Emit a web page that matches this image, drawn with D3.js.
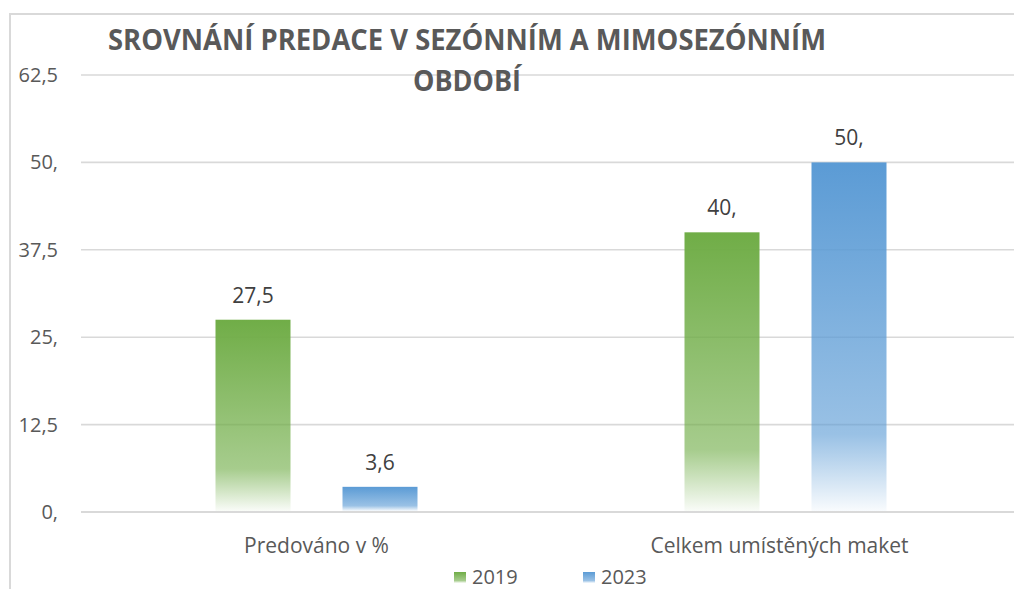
<!DOCTYPE html>
<html><head><meta charset="utf-8">
<script src="https://cdn.jsdelivr.net/npm/d3@7"></script>
<style>body{margin:0;background:#fff}svg{display:block}</style>
</head><body>
<svg id="c" width="1014" height="589"></svg>
<script>
const categories = ["Predováno v %", "Celkem umístěných maket"];
const series = ["2019", "2023"];
const values2019 = [27.5, 40];
const values2023 = [3.6, 50];
const valueLabels2019 = ["27,5", "40,"];
const valueLabels2023 = ["3,6", "50,"];
const tickValues = [0, 12.5, 25, 37.5, 50, 62.5];
const tickLabels = ["0,", "12,5", "25,", "37,5", "50,", "62,5"];
const titleLines = ["SROVNÁNÍ PREDACE V SEZÓNNÍM A MIMOSEZÓNNÍM", "OBDOBÍ"];
const colors = {"2019": "#70AD47", "2023": "#5B9BD5"};

const svg = d3.select("#c");
const font = "'Open Sans', sans-serif";

// frame
svg.append("rect").attr("x", 10).attr("y", 14).attr("width", 1030).attr("height", 600)
  .attr("fill", "none").attr("stroke", "#d9d9d9").attr("stroke-width", 2);

// gradients
const defs = svg.append("defs");
series.forEach(s => {
  const g = defs.append("linearGradient").attr("id", "g" + s)
    .attr("x1", 0).attr("y1", 0).attr("x2", 0).attr("y2", 1);
  g.append("stop").attr("offset", "0%").attr("stop-color", colors[s]).attr("stop-opacity", 1);
  g.append("stop").attr("offset", "78%").attr("stop-color", colors[s]).attr("stop-opacity", 0.62);
  g.append("stop").attr("offset", "100%").attr("stop-color", colors[s]).attr("stop-opacity", 0.04);
});

const y = d3.scaleLinear().domain([0, 62.5]).range([512, 75]);
const x0 = d3.scaleBand().domain(categories).range([82, 1020])
  .paddingInner(267 / 469).paddingOuter(267 / 469 / 2);
const x1 = d3.scaleBand().domain(series).range([0, x0.bandwidth()]).paddingInner(52 / 127);

// gridlines
svg.append("g").selectAll("line").data(tickValues).join("line")
  .attr("x1", 81).attr("x2", 1014)
  .attr("y1", d => y(d)).attr("y2", d => y(d))
  .attr("stroke", "#d9d9d9").attr("stroke-width", d => d === 0 ? 2.2 : 1.6);

// y tick labels
svg.append("g").selectAll("text").data(tickValues).join("text")
  .attr("x", 58).attr("y", d => y(d)).attr("dy", "0.35em")
  .attr("text-anchor", "end").attr("font-family", font).attr("font-size", 20)
  .attr("fill", "#595959").text((d, i) => tickLabels[i]);

const data = categories.map((c, i) => ({
  cat: c,
  vals: [
    {s: "2019", v: values2019[i], l: valueLabels2019[i]},
    {s: "2023", v: values2023[i], l: valueLabels2023[i]}
  ]
}));

const groups = svg.append("g").selectAll("g").data(data).join("g")
  .attr("transform", d => `translate(${x0(d.cat)},0)`);

groups.selectAll("rect").data(d => d.vals).join("rect")
  .attr("x", d => x1(d.s)).attr("width", x1.bandwidth())
  .attr("y", d => y(d.v)).attr("height", d => y(0) - y(d.v) - 1)
  .attr("fill", d => `url(#g${d.s})`);

groups.selectAll("text").data(d => d.vals).join("text")
  .attr("x", d => x1(d.s) + x1.bandwidth() / 2).attr("y", d => y(d.v) - 17)
  .attr("text-anchor", "middle").attr("font-family", font).attr("font-size", 21)
  .attr("fill", "#404040").text(d => d.l);

// category labels
svg.append("g").selectAll("text").data(categories).join("text")
  .attr("x", (d, i) => x0(d) + x0.bandwidth() / 2 - (i === 1 ? 6 : 0)).attr("y", 553)
  .attr("text-anchor", "middle").attr("font-family", font).attr("font-size", 21)
  .attr("fill", "#595959").text(d => d);

// title
svg.append("text").attr("x", 467).attr("y", 50).attr("text-anchor", "middle")
  .attr("font-family", font).attr("font-weight", "bold").attr("font-size", 28)
  .attr("fill", "#595959").attr("textLength", 718).attr("lengthAdjust", "spacingAndGlyphs")
  .text(titleLines[0]);
svg.append("text").attr("x", 467).attr("y", 91).attr("text-anchor", "middle")
  .attr("font-family", font).attr("font-weight", "bold").attr("font-size", 28)
  .attr("fill", "#595959").attr("textLength", 108).attr("lengthAdjust", "spacingAndGlyphs")
  .text(titleLines[1]);

// legend
const legendX = [454, 583];
const lg = svg.append("g").selectAll("g").data(series).join("g")
  .attr("transform", (d, i) => `translate(${legendX[i]},572)`);
lg.append("rect").attr("width", 12).attr("height", 11).attr("fill", d => `url(#g${d})`);
lg.append("text").attr("x", 18).attr("y", 12)
  .attr("font-family", font).attr("font-size", 20).attr("fill", "#595959").text(d => d);
</script>
</body></html>
